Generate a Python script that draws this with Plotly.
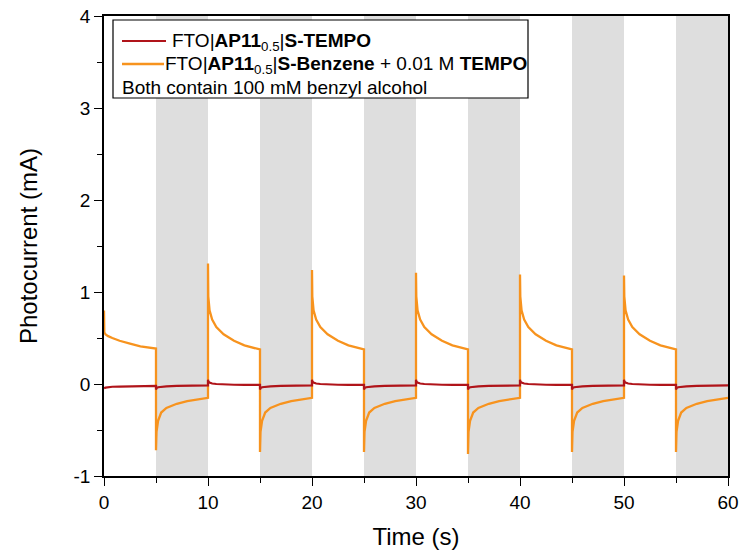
import plotly.graph_objects as go

# ---- data ----
light_starts = [0, 10, 20, 30, 40, 50]
dark_starts = [5, 15, 25, 35, 45, 55]
period_len = 5

light_offsets = [0, 0.03, 0.15, 0.4, 0.8, 1.5, 2.5, 3.5, 5.0]
dark_offsets = [0, 0.05, 0.2, 0.5, 1.0, 2.0, 3.0, 4.0, 5.0]

# orange: FTO|AP11_0.5|S-Benzene + 0.01 M TEMPO
orange_first_light = [0.80, 0.56, 0.54, 0.52, 0.50, 0.47, 0.44, 0.41, 0.385]
orange_light_peaks = [1.31, 1.24, 1.21, 1.19, 1.18]
orange_light_decay = [0.95, 0.80, 0.70, 0.62, 0.54, 0.47, 0.42, 0.375]
orange_dark_troughs = [-0.72, -0.74, -0.74, -0.76, -0.74, -0.74]
orange_dark_decay = [-0.52, -0.40, -0.31, -0.26, -0.215, -0.185, -0.165, -0.15]

# red: FTO|AP11_0.5|S-TEMPO
red_first_light = [-0.05, -0.045, -0.04, -0.035, -0.03, -0.028, -0.025, -0.022, -0.02]
red_light = [0.045, 0.03, 0.015, 0.005, 0.0, -0.005, -0.008, -0.01, -0.01]
red_dark = [-0.06, -0.045, -0.035, -0.03, -0.025, -0.02, -0.02, -0.018, -0.015]

# tick labels
y_tick_vals = [-1, 0, 1, 2, 3, 4]
y_tick_text = ["-1", "0", "1", "2", "3", "4"]

ORANGE = "#F7931E"
RED = "#B0141A"
GRAY = "#DEDEDE"


def build(first_light, light_vals_list, dark_vals_list):
    xs, ys = [], []
    for i, ls in enumerate(light_starts):
        vals = first_light if i == 0 else light_vals_list[i - 1]
        xs += [ls + o for o in light_offsets]
        ys += vals
        ds = dark_starts[i]
        xs += [ds + o for o in dark_offsets]
        ys += dark_vals_list[i]
    return xs, ys


o_x, o_y = build(
    orange_first_light,
    [[p] + orange_light_decay for p in orange_light_peaks],
    [[t] + orange_dark_decay for t in orange_dark_troughs],
)
r_x, r_y = build(
    red_first_light,
    [red_light for _ in orange_light_peaks],
    [red_dark for _ in dark_starts],
)

fig = go.Figure()
for ds in dark_starts:
    fig.add_vrect(x0=ds, x1=ds + period_len, fillcolor=GRAY, opacity=1,
                  line_width=0, layer="below")

fig.add_trace(go.Scatter(x=o_x, y=o_y, mode="lines",
                         line=dict(color=ORANGE, width=2.3), showlegend=False))
fig.add_trace(go.Scatter(x=r_x, y=r_y, mode="lines",
                         line=dict(color=RED, width=2.2), showlegend=False))

L, R, T, B = 104, 12, 16, 74
W, H = 740, 550
pw, ph = W - L - R, H - T - B


def px(x):
    return (x - L) / pw


def py(y):
    return (H - B - y) / ph


font_family = "Liberation Sans, Arial, sans-serif"

# manual legend box
fig.add_shape(type="rect", xref="paper", yref="paper",
              x0=px(113), x1=px(528), y0=py(98), y1=py(20),
              line=dict(color="black", width=1.2), fillcolor="white", layer="above")
fig.add_shape(type="line", xref="paper", yref="paper",
              x0=px(122), x1=px(166), y0=py(41), y1=py(41),
              line=dict(color=RED, width=2.2), layer="above")
fig.add_shape(type="line", xref="paper", yref="paper",
              x0=px(122), x1=px(164), y0=py(64), y1=py(64),
              line=dict(color=ORANGE, width=2.3), layer="above")
legend_texts = [
    (170, 42, "FTO|<b>AP11</b><sub>0.5</sub>|<b>S-TEMPO</b>"),
    (163, 65, "FTO|<b>AP11</b><sub>0.5</sub>|<b>S-Benzene</b> + 0.01 M <b>TEMPO</b>"),
    (120, 87, "Both contain 100 mM benzyl alcohol"),
]
for x, y, t in legend_texts:
    fig.add_annotation(xref="paper", yref="paper", x=px(x), y=py(y), text=t,
                       showarrow=False, xanchor="left", yanchor="middle",
                       font=dict(size=19, color="black", family=font_family))

axis_common = dict(
    showline=True, linecolor="black", linewidth=1.5, mirror=True,
    ticks="outside", ticklen=8, tickwidth=1.2, tickcolor="black",
    showgrid=False, zeroline=False, automargin=False,
    tickfont=dict(size=19, color="black", family=font_family),
)
fig.update_xaxes(range=[0, 60], dtick=10, tick0=0,
                 minor=dict(dtick=5, ticks="outside", ticklen=5, tickcolor="black", tickwidth=1.2),
                 title=dict(text="Time (s)", font=dict(size=24, color="black", family=font_family),
                            standoff=17),
                 **axis_common)
fig.update_yaxes(range=[-1, 4], tickmode="array", tickvals=y_tick_vals, ticktext=y_tick_text,
                 minor=dict(dtick=0.5, ticks="outside", ticklen=5, tickcolor="black", tickwidth=1.2),
                 title=dict(text="Photocurrent (mA)", font=dict(size=24, color="black", family=font_family),
                            standoff=29),
                 **axis_common)
fig.update_layout(
    width=W, height=H,
    margin=dict(l=L, r=R, t=T, b=B),
    plot_bgcolor="white", paper_bgcolor="white",
    font=dict(family=font_family, color="black"),
    showlegend=False,
)
fig.write_html("out.html")
